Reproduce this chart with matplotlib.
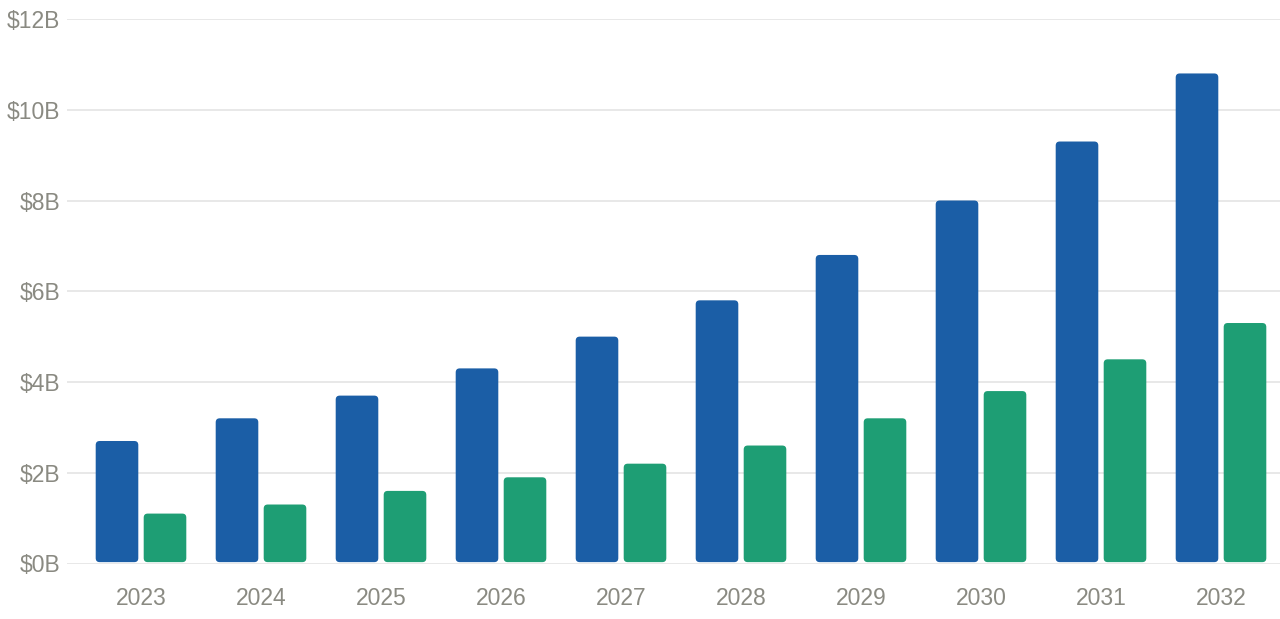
import numpy as np
import matplotlib.pyplot as plt
from matplotlib.patches import FancyBboxPatch

# data (billions USD)
years = ['2023', '2024', '2025', '2026', '2027', '2028', '2029', '2030', '2031', '2032']
series_a = [2.7, 3.2, 3.7, 4.3, 5.0, 5.8, 6.8, 8.0, 9.3, 10.8]
series_b = [1.1, 1.3, 1.6, 1.9, 2.2, 2.6, 3.2, 3.8, 4.5, 5.3]
yticks = [0, 2, 4, 6, 8, 10, 12]

BLUE = '#1b5ea6'
GREEN = '#1e9e74'
GREY = '#8a8a82'

plt.rcParams['font.family'] = ['Liberation Sans', 'DejaVu Sans']

W, H = 1280, 619
fig = plt.figure(figsize=(W / 100, H / 100), dpi=100)
# axes placed in pixels: left 67, right 1280, bottom 563.5, top 19
ax = fig.add_axes([67 / W, (H - 563.5) / H, (1280 - 67) / W, (563.5 - 19) / H])

x = np.arange(len(years))
bw = 0.355
off = 0.2
bars_a = ax.bar(x - off, series_a, bw, color=BLUE, zorder=3)
bars_b = ax.bar(x + off, series_b, bw, color=GREEN, zorder=3)

ax.set_xlim((67 - 141) / 120, (1280 - 141) / 120)
ax.set_ylim(0, 12)

# swap square bars for rounded ones
px_x = 120.0            # pixels per x unit
px_y = (563.5 - 19) / 12  # pixels per y unit
aspect = px_x / px_y
rad = 4 / px_x
for bars in (bars_a, bars_b):
    for b in bars:
        bx, by = b.get_x(), b.get_y()
        w, h = b.get_width(), b.get_height()
        p = FancyBboxPatch((bx, by + 0.03), w, h - 0.03,
                           boxstyle=f'round,pad=0,rounding_size={rad}',
                           mutation_aspect=aspect,
                           facecolor=b.get_facecolor(), edgecolor='none', zorder=3)
        ax.add_patch(p)
        b.remove()

ax.set_yticks(yticks)
ax.set_yticklabels([f'${v}B' for v in yticks])
ax.set_xticks(x)
ax.set_xticklabels(years)

ax.grid(axis='y', color='#e6e6e6', linewidth=1.3, zorder=0)
ax.tick_params(axis='both', length=0, colors=GREY, labelsize=16.5)
ax.tick_params(axis='y', pad=5)
ax.tick_params(axis='x', pad=17)
for s in ax.spines.values():
    s.set_visible(False)

fig.savefig('out.png', dpi=100)
